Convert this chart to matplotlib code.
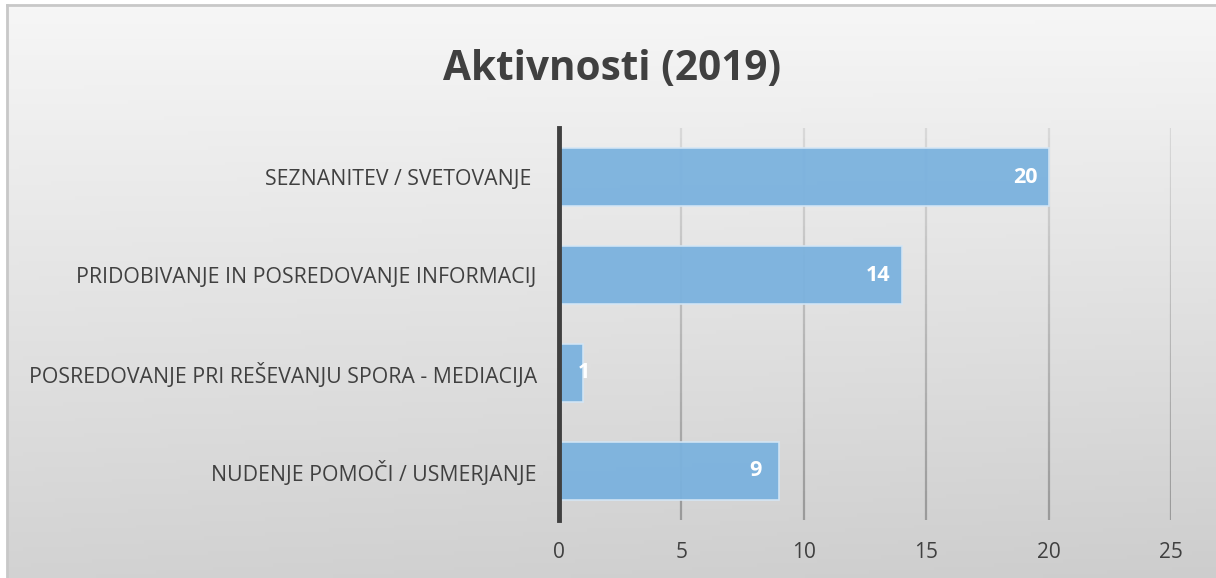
import numpy as np
import matplotlib.pyplot as plt
import matplotlib.transforms as mtransforms
from matplotlib.collections import LineCollection

plt.rcParams['font.family'] = ['Open Sans', 'DejaVu Sans']

categories = ['SEZNANITEV / SVETOVANJE ',
              'PRIDOBIVANJE IN POSREDOVANJE INFORMACIJ',
              'POSREDOVANJE PRI REŠEVANJU SPORA - MEDIACIJA',
              'NUDENJE POMOČI / USMERJANJE']
values = [20, 14, 1, 9]
xticks = [0, 5, 10, 15, 20, 25]
title = 'Aktivnosti (2019)'

fig = plt.figure(figsize=(12.16, 5.78), dpi=100)
fig.patch.set_facecolor('white')

# background panel with soft gradient (light top, darker bottom)
bg = fig.add_axes([7/1216, 0, 1 - 7/1216, 1 - 5/578])
gx, gy = np.meshgrid(np.linspace(0, 1, 300), np.linspace(0, 1, 150))
shade = 0.965 - 0.14 * gy - 0.02 * gx + 0.02 * gx * (1 - gy)
img = np.dstack([shade, shade, shade])
bg.imshow(np.clip(img, 0, 1), aspect='auto', extent=[0, 1, 0, 1], origin='upper')
bg.set_xlim(0, 1)
bg.set_ylim(0, 1)
bg.set_xticks([])
bg.set_yticks([])
for s in bg.spines.values():
    s.set_color('#c8c8c8')
    s.set_linewidth(2)
bg.spines['right'].set_visible(False)
bg.spines['bottom'].set_visible(False)

ax = fig.add_axes([559/1216, 1 - 520/578, (1171 - 559)/1216, (520 - 128)/578])
ax.patch.set_alpha(0)

y = np.arange(len(categories))
ax.barh(y, values, height=0.59, color='#7bb2de', alpha=0.95,
        edgecolor='#d4e6f5', linewidth=1.2, zorder=3)

ax.set_xlim(0, 25)
ax.set_ylim(len(categories) - 0.5, -0.5)
ax.set_xticks(xticks)
ax.set_yticks(y)
ax.set_yticklabels(categories, fontsize=15.3, color='#404040')
ax.tick_params(axis='x', labelsize=15, colors='#404040', length=0, pad=16)
ax.tick_params(axis='y', length=0, pad=16)

# vertical gridlines, lighter near the top, darker near the bottom
trans = mtransforms.blended_transform_factory(ax.transData, ax.transAxes)
nseg = 40
fr = np.linspace(0, 1, nseg + 1)
for xt in xticks[1:]:
    segs = [[(xt, fr[i]), (xt, fr[i + 1])] for i in range(nseg)]
    cols = [str(0.60 + 0.25 * (fr[i] + fr[i + 1]) / 2) for i in range(nseg)]
    lc = LineCollection(segs, colors=cols, linewidths=1.6,
                        transform=trans, zorder=1)
    ax.add_collection(lc)

for s in ['top', 'right', 'bottom']:
    ax.spines[s].set_visible(False)
ax.spines['left'].set_color('#404040')
ax.spines['left'].set_linewidth(3.5)
ax.spines['left'].set_zorder(4)

for yi, v in zip(y, values):
    off = -17 if v > 2 else 0
    ax.annotate(str(v), xy=(v, yi), xytext=(off, 0), textcoords='offset points',
                ha='center', va='center', color='white', fontsize=15.5,
                fontweight='bold', zorder=5)

fig.text(612/1216, 1 - 70/578, title, ha='center', va='center',
         fontsize=29.2, fontweight='bold', color='#404040')

fig.savefig('out.png', dpi=100, facecolor=fig.get_facecolor())
